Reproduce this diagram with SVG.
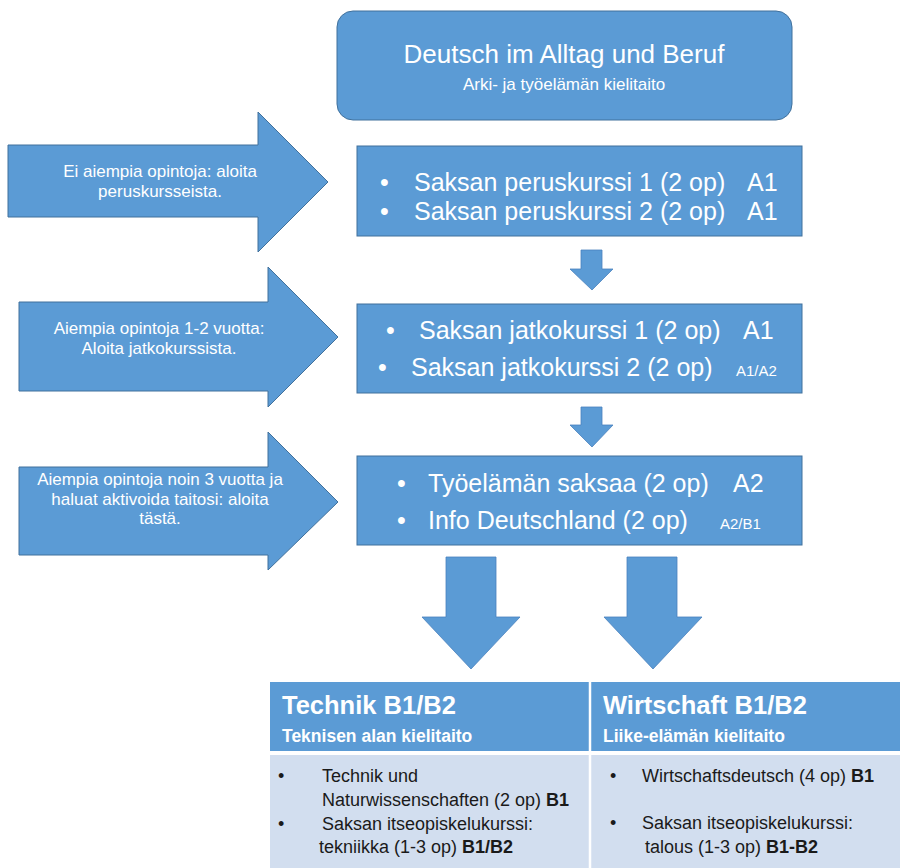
<svg xmlns="http://www.w3.org/2000/svg" width="900" height="868" viewBox="0 0 900 868">
  <style>
    .shape { fill: #5B9BD5; stroke: #41719C; stroke-width: 1; }
    .conn { fill: #5B9BD5; stroke: #4A82BE; stroke-width: 0.8; }
    .w { font-family: "Liberation Sans", Arial, sans-serif; fill: #FFFFFF; }
    .big { font-size: 25px; }
    .small { font-size: 15px; }
    .arr { font-size: 17px; text-anchor: middle; }
    .d { font-family: "Liberation Sans", Arial, sans-serif; fill: #1A1A1A; font-size: 18px; }
    .hd { font-family: "Liberation Sans", Arial, sans-serif; fill: #FFFFFF; font-weight: bold; }
    .b { font-weight: bold; }
  </style>
  <rect width="900" height="868" fill="#FFFFFF"/>

  <g id="title">
    <rect class="shape" x="337" y="11" width="455" height="109" rx="16" ry="16"/>
    <text class="w" x="564" y="63" font-size="26" text-anchor="middle">Deutsch im Alltag und Beruf</text>
    <text class="w" x="564" y="90" font-size="17" text-anchor="middle">Arki- ja työelämän kielitaito</text>
  </g>

  <g id="entry1">
    <path class="shape" d="M8,145 H258 V112 L328,182 L258,252 V217 H8 Z"/>
    <text class="w arr" x="160" y="177" font-size="16.5">Ei aiempia opintoja: aloita</text>
    <text class="w arr" x="160" y="197" font-size="16.5">peruskursseista.</text>
  </g>

  <g id="entry2">
    <path class="shape" d="M19,302 H268 V267 L338,337 L268,407 V391 H19 Z"/>
    <text class="w arr" x="159" y="334">Aiempia opintoja 1-2 vuotta:</text>
    <text class="w arr" x="159" y="354">Aloita jatkokurssista.</text>
  </g>

  <g id="entry3">
    <path class="shape" d="M19,467 H268 V432 L338,502 L268,570 V555 H19 Z"/>
    <text class="w arr" x="160" y="485">Aiempia opintoja noin 3 vuotta ja</text>
    <text class="w arr" x="160" y="505">haluat aktivoida taitosi: aloita</text>
    <text class="w arr" x="160" y="524">tästä.</text>
  </g>

  <g id="basic">
    <rect class="shape" x="357" y="146" width="445" height="90"/>
    <text class="w big" x="380" y="191">•</text>
    <text class="w big" x="414" y="191">Saksan peruskurssi 1 (2 op)</text>
    <text class="w big" x="747" y="191">A1</text>
    <text class="w big" x="380" y="220">•</text>
    <text class="w big" x="414" y="220">Saksan peruskurssi 2 (2 op)</text>
    <text class="w big" x="747" y="220">A1</text>
  </g>

  <g id="continuation">
    <rect class="shape" x="357" y="304" width="445" height="89"/>
    <text class="w big" x="386" y="339">•</text>
    <text class="w big" x="419" y="339">Saksan jatkokurssi 1 (2 op)</text>
    <text class="w big" x="743" y="339">A1</text>
    <text class="w big" x="378" y="376">•</text>
    <text class="w big" x="411" y="376">Saksan jatkokurssi 2 (2 op)</text>
    <text class="w small" x="736" y="376">A1/A2</text>
  </g>

  <g id="working-life">
    <rect class="shape" x="357" y="456" width="445" height="89"/>
    <text class="w big" x="397" y="492">•</text>
    <text class="w big" x="428" y="492">Työelämän saksaa (2 op)</text>
    <text class="w big" x="733" y="492">A2</text>
    <text class="w big" x="397" y="529">•</text>
    <text class="w big" x="428" y="529">Info Deutschland (2 op)</text>
    <text class="w small" x="720" y="529">A2/B1</text>
  </g>

  <g id="connectors">
    <path class="conn" d="M581,250 H602 V269 H613 L592,290 L570,269 H581 Z"/>
    <path class="conn" d="M581,407 H602 V425 H613 L592,447 L570,425 H581 Z"/>
    <path class="conn" d="M446,557 H496 V617 H520 L471,669 L422,617 H446 Z"/>
    <path class="conn" d="M627,557 H677 V617 H702 L653,669 L604,617 H627 Z"/>
  </g>

  <g id="table">
    <rect x="270" y="682" width="630" height="69" fill="#5B9BD5"/>
    <rect x="270" y="755" width="630" height="113" fill="#D2DEEF"/>
    <line x1="590" y1="682" x2="590" y2="868" stroke="#FFFFFF" stroke-width="2.5"/>
  </g>

  <g id="technik">
    <text class="hd" x="282" y="714" font-size="25.5">Technik B1/B2</text>
    <text class="hd" x="282" y="742" font-size="17.5">Teknisen alan kielitaito</text>
    <text class="d" x="278" y="782">•</text>
    <text class="d" x="322" y="782">Technik und</text>
    <text class="d" x="322" y="806">Naturwissenschaften (2 op) <tspan class="b">B1</tspan></text>
    <text class="d" x="278" y="830">•</text>
    <text class="d" x="322" y="830">Saksan itseopiskelukurssi:</text>
    <text class="d" x="319" y="853">tekniikka (1-3 op) <tspan class="b">B1/B2</tspan></text>
  </g>

  <g id="wirtschaft">
    <text class="hd" x="603" y="714" font-size="25.5">Wirtschaft B1/B2</text>
    <text class="hd" x="603" y="742" font-size="17.5">Liike-elämän kielitaito</text>
    <text class="d" x="610" y="782">•</text>
    <text class="d" x="642" y="782">Wirtschaftsdeutsch (4 op) <tspan class="b">B1</tspan></text>
    <text class="d" x="610" y="829">•</text>
    <text class="d" x="642" y="829">Saksan itseopiskelukurssi:</text>
    <text class="d" x="645" y="853">talous (1-3 op) <tspan class="b">B1-B2</tspan></text>
  </g>
</svg>
